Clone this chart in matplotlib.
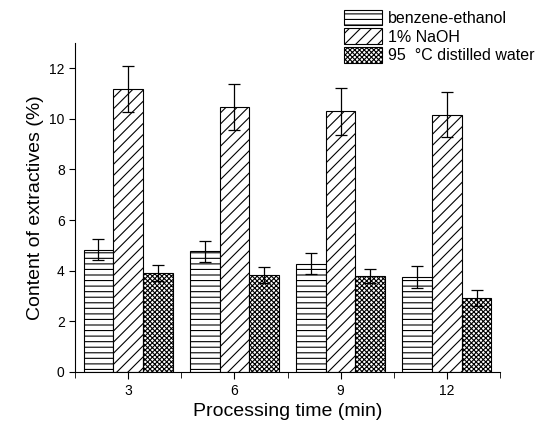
import matplotlib
matplotlib.use("Agg")
import matplotlib.pyplot as plt
import numpy as np

plt.rcParams['font.family'] = ['Liberation Sans', 'DejaVu Sans']
plt.rcParams['hatch.linewidth'] = 0.8

times = ['3', '6', '9', '12']
series_names = ['benzene-ethanol', '1% NaOH', '95  \u00b0C distilled water']
benzene = [4.83, 4.76, 4.28, 3.75]
naoh = [11.17, 10.46, 10.30, 10.17]
water = [3.91, 3.82, 3.79, 2.92]
benzene_err = [0.42, 0.41, 0.42, 0.42]
naoh_err = [0.90, 0.90, 0.93, 0.90]
water_err = [0.30, 0.31, 0.28, 0.30]

values = [benzene, naoh, water]
errors = [benzene_err, naoh_err, water_err]
hatches = ['---', '///', 'xxxxxxx']

fig = plt.figure(figsize=(5.44, 4.29), dpi=100)
ax = fig.add_axes([0.138, 0.133, 0.781, 0.767])

x = np.arange(len(times))
width = 0.28
for i in range(3):
    ax.bar(x + (i - 1) * width, values[i], width, yerr=errors[i],
           color='white', edgecolor='black', linewidth=0.8, hatch=hatches[i],
           error_kw=dict(ecolor='black', elinewidth=0.9, capsize=4, capthick=0.9),
           label=series_names[i])

ax.set_xlim(-0.5, len(times) - 0.5)
ax.set_ylim(0, 13)
ax.set_yticks(np.arange(0, 13, 2))
ax.set_xticks(x)
ax.set_xticklabels(times)
ax.set_xticks(np.arange(-0.5, len(times), 1), minor=True)
ax.tick_params(which='both', direction='out', labelsize=10, length=5)
ax.tick_params(axis='y', which='major', length=4)
ax.tick_params(axis='x', which='minor', length=4)

for side in ['top', 'right']:
    ax.spines[side].set_visible(False)

ax.set_xlabel('Processing time (min)', fontsize=14)
ax.set_ylabel('Content of extractives (%)', fontsize=14)

fig.legend(loc='upper right', bbox_to_anchor=(1.0, 1.0), frameon=False,
           fontsize=11.5, handlelength=2.4, handleheight=1.15,
           labelspacing=0.15, handletextpad=0.35, borderaxespad=0.2)

fig.savefig('out.png', dpi=100)
